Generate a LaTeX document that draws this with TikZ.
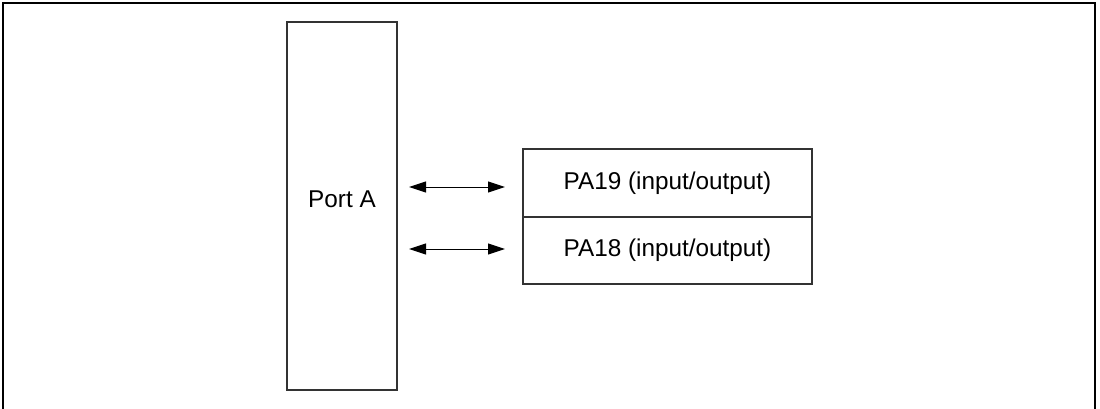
\documentclass[tikz,border=0pt]{standalone}
\usepackage{fontspec}
\setmainfont{Liberation Sans}
\usetikzlibrary{arrows.meta}
\begin{document}
\begin{tikzpicture}[x=1pt,y=-1pt,
  frame/.style={line width=2pt,black},
  boxst/.style={draw=black!80,line width=1.5pt,inner sep=0pt},
  lbl/.style={font=\fontsize{24.3}{27}\selectfont},
  biarrow/.style={line width=1pt,{Triangle[length=17pt,width=11pt]}-{Triangle[length=17pt,width=11pt]}}]
\useasboundingbox (0,0) rectangle (1100,408);
\draw[frame] (3,410) -- (3,3) -- (1095,3) -- (1095,410);
\node[boxst,minimum width=110pt,minimum height=368pt] (port) at (342,206) {};
\node[lbl] (portlbl) at (342,199) {Port A};
\node[boxst,minimum width=289pt,minimum height=68pt] (pa19) at (667.5,183) {};
\node[boxst,minimum width=289pt,minimum height=67pt] (pa18) at (667.5,250.5) {};
\node[lbl] at (pa19.center) {PA19 (input/output)};
\node[lbl] at (pa18.center) {PA18 (input/output)};
\coordinate (a1l) at (409,187);
\coordinate (a1r) at (505,187);
\coordinate (a2l) at (409,249);
\coordinate (a2r) at (505,249);
\draw[biarrow] (a1l) -- (a1r);
\draw[biarrow] (a2l) -- (a2r);
\end{tikzpicture}
\end{document}
